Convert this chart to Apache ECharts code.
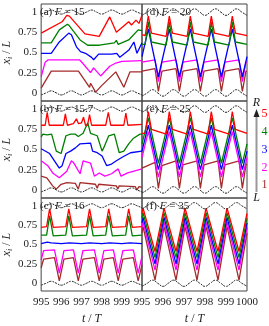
<!DOCTYPE html>
<html><head><meta charset="utf-8">
<script src="https://cdn.jsdelivr.net/npm/echarts@6/dist/echarts.min.js"></script>
<style>html,body{margin:0;padding:0;background:#fff}#c{width:269px;height:326px}</style>
</head><body><div id="c"></div>
<script>
// ---------- data ----------
const yTickValues = [0, 0.25, 0.5, 0.75, 1];
const yTickLabels = ['0', '0.25', '0.5', '0.75', '1'];
const xTickLabels = ['995', '996', '997', '998', '999', '1000'];
const panelTitles = ['(a) ', '(d) ', '(b) ', '(e) ', '(c) ', '(f) '];
const panelF = ['15', '20', '15.7', '25', '16', '35'];
const particleNames = ['1', '2', '3', '4', '5'];

// wall positions (sampled every T/4)
const wallT = [995,995.25,995.5,995.75,996,996.25,996.5,996.75,997,997.25,997.5,997.75,998,998.25,998.5,998.75,999,999.25,999.5,999.75,1000];
const wallSmallLow  = [-0.025,0,0.025,0,-0.025,0,0.025,0,-0.025,0,0.025,0,-0.025,0,0.025,0,-0.025,0,0.025,0,-0.025];
const wallSmallHigh = [0.975,1,1.025,1,0.975,1,1.025,1,0.975,1,1.025,1,0.975,1,1.025,1,0.975,1,1.025,1,0.975];
const wallBigLow  = [-0.04,0,0.04,0,-0.04,0,0.04,0,-0.04,0,0.04,0,-0.04,0,0.04,0,-0.04,0,0.04,0,-0.04];
const wallBigHigh = [0.96,1,1.04,1,0.96,1,1.04,1,0.96,1,1.04,1,0.96,1,1.04,1,0.96,1,1.04,1,0.96];

// (a) F = 15
const aRed   = [[995,0.74],[996.04,0.88],[996.27,0.96],[996.4,0.95],[997.17,0.73],[997.88,0.70],[998.4,0.94],[998.73,0.75],[999.34,0.88],[999.48,0.84],[999.7,0.90],[999.85,0.86],[1000,0.96]];
const aGreen = [[995,0.62],[995.5,0.62],[995.9,0.78],[996.3,0.85],[996.4,0.83],[996.93,0.655],[997.31,0.59],[997.88,0.59],[998.63,0.62],[998.73,0.65],[998.82,0.60],[999.34,0.655],[999.81,0.78],[1000,0.77]];
const aBlue  = [[995,0.49],[995.5,0.49],[995.9,0.63],[996.37,0.74],[996.5,0.72],[996.75,0.57],[996.95,0.51],[997.2,0.49],[997.5,0.44],[997.6,0.41],[997.85,0.48],[998.5,0.48],[998.75,0.49],[998.9,0.44],[999.35,0.53],[999.6,0.63],[999.75,0.49],[1000,0.62]];
const aMag   = [[995,0.20],[995.2,0.38],[995.35,0.41],[996.9,0.41],[997.05,0.37],[997.45,0.25],[997.6,0.31],[997.95,0.21],[998.4,0.33],[998.7,0.37],[999.0,0.39],[1000,0.40]];
const aBrown = [[995,0.06],[995.5,0.27],[996.85,0.27],[997.4,0.07],[997.45,0.12],[997.7,0.01],[998.0,0.09],[998.7,0.26],[999.1,0.07],[999.4,0.26],[1000,0.26]];

// (b) F = 15.7
const bRed   = [[995,0.80],[995.2,0.80],[995.3,0.96],[995.4,0.80],[996.1,0.80],[996.2,0.94],[996.3,0.80],[996.6,0.82],[996.75,0.88],[996.85,0.82],[997.0,0.83],[997.1,0.90],[997.2,0.80],[997.3,0.80],[997.4,0.93],[997.5,0.80],[998.2,0.80],[998.33,0.96],[998.45,0.80],[999.1,0.80],[999.2,0.95],[999.3,0.80],[1000,0.81]];
const bGreen = [[995,0.655],[995.09,0.69],[995.3,0.68],[995.52,0.69],[995.75,0.48],[995.99,0.45],[996.23,0.67],[996.46,0.69],[996.7,0.69],[996.84,0.66],[997.08,0.70],[997.31,0.83],[997.45,0.70],[997.78,0.67],[998.02,0.48],[998.1,0.52],[998.35,0.67],[998.63,0.69],[998.87,0.46],[999.1,0.48],[999.34,0.57],[999.58,0.64],[999.9,0.69],[1000,0.69]];
const bBlue  = [[995,0.51],[995.42,0.45],[995.9,0.27],[996.04,0.30],[996.23,0.45],[996.46,0.48],[996.7,0.52],[996.93,0.57],[997.45,0.58],[997.55,0.48],[997.78,0.46],[998.02,0.42],[998.25,0.30],[998.49,0.32],[998.73,0.36],[999.06,0.41],[999.43,0.46],[1000,0.48]];
const bMag   = [[995,0.36],[995.09,0.38],[995.33,0.30],[995.57,0.21],[995.9,0.15],[996.27,0.23],[996.5,0.36],[996.6,0.34],[996.93,0.20],[997.08,0.36],[997.45,0.33],[997.64,0.17],[997.88,0.21],[998.16,0.17],[998.49,0.20],[998.82,0.26],[998.96,0.17],[999.29,0.21],[1000,0.26]];
const bBrown = [[995,0.17],[995.28,0.15],[995.57,0.05],[995.75,0.01],[995.99,0.07],[996.27,0.09],[996.7,0.08],[996.84,0.01],[996.93,0.09],[997.69,0.07],[997.78,0.02],[997.85,0.07],[998.73,0.05],[998.8,0.01],[998.87,0.05],[999.67,0.04],[999.75,0.0],[999.85,0.04],[1000,0.03]];

// (c) F = 16
const cRed   = [[995,0.72],[995.27,0.73],[995.42,0.96],[995.6,0.72],[996.22,0.73],[996.37,0.96],[996.55,0.72],[997.25,0.73],[997.4,0.96],[997.58,0.72],[998.2,0.73],[998.35,0.96],[998.53,0.72],[999.19,0.73],[999.34,0.96],[999.52,0.72],[1000,0.73]];
const cGreen = [[995,0.62],[995.27,0.62],[995.42,0.87],[995.6,0.61],[996.22,0.62],[996.37,0.87],[996.55,0.61],[997.25,0.62],[997.4,0.87],[997.58,0.61],[998.2,0.62],[998.35,0.87],[998.53,0.61],[999.19,0.62],[999.34,0.87],[999.52,0.61],[1000,0.62]];
const cBlue  = [[995,0.51],[995.3,0.53],[995.5,0.52],[996,0.51],[996.4,0.52],[997,0.51],[997.4,0.52],[998,0.51],[998.4,0.52],[999,0.51],[999.4,0.52],[1000,0.51]];
const cMag   = [[995,0.30],[995.12,0.42],[995.66,0.43],[995.9,0.13],[996.13,0.42],[996.6,0.43],[996.84,0.13],[997.07,0.42],[997.64,0.43],[997.88,0.13],[998.11,0.42],[998.58,0.43],[998.82,0.13],[999.05,0.42],[999.57,0.43],[999.81,0.13],[1000,0.35]];
const cBrown = [[995,0.20],[995.12,0.31],[995.66,0.33],[995.9,0.03],[996.13,0.31],[996.6,0.33],[996.84,0.03],[997.07,0.31],[997.64,0.33],[997.88,0.03],[998.11,0.31],[998.58,0.33],[998.82,0.03],[999.05,0.31],[999.57,0.33],[999.81,0.03],[1000,0.24]];

// (d) F = 20
const dRed   = [[995,0.72],[995.15,0.71],[995.3,0.95],[995.45,0.74],[996.15,0.70],[996.3,0.95],[996.45,0.74],[997.15,0.70],[997.3,0.95],[997.45,0.74],[998.15,0.70],[998.3,0.95],[998.45,0.74],[999.15,0.70],[999.3,0.95],[999.45,0.74],[1000,0.71]];
const dGreen = [[995,0.60],[995.15,0.60],[995.3,0.88],[995.45,0.63],[996.15,0.59],[996.3,0.88],[996.45,0.63],[997.15,0.59],[997.3,0.88],[997.45,0.63],[998.15,0.59],[998.3,0.88],[998.45,0.63],[999.15,0.59],[999.3,0.88],[999.45,0.63],[1000,0.60]];
const dBlue  = [[995,0.45],[995.3,0.79],[995.78,0.20],[996.3,0.79],[996.78,0.20],[997.3,0.79],[997.78,0.20],[998.3,0.79],[998.78,0.20],[999.3,0.79],[999.78,0.20],[1000,0.45]];
const dMag   = [[995,0.38],[995.62,0.41],[995.78,0.14],[995.95,0.38],[996.62,0.41],[996.78,0.14],[996.95,0.38],[997.62,0.41],[997.78,0.14],[997.95,0.38],[998.62,0.41],[998.78,0.14],[998.95,0.38],[999.62,0.41],[999.78,0.14],[999.95,0.38],[1000,0.38]];
const dBrown = [[995,0.27],[995.62,0.30],[995.78,0.02],[995.95,0.27],[996.62,0.30],[996.78,0.02],[996.95,0.27],[997.62,0.30],[997.78,0.02],[997.95,0.27],[998.62,0.30],[998.78,0.02],[998.95,0.27],[999.62,0.30],[999.78,0.02],[999.95,0.27],[1000,0.27]];

// (e) F = 25
const eRed   = [[995,0.70],[995.15,0.70],[995.3,0.97],[995.45,0.75],[996.15,0.69],[996.3,0.97],[996.45,0.75],[997.15,0.69],[997.3,0.97],[997.45,0.75],[998.15,0.69],[998.3,0.97],[998.45,0.75],[999.15,0.69],[999.3,0.97],[999.45,0.75],[1000,0.70]];
const eGreen = [[995,0.57],[995.3,0.89],[995.78,0.33],[996.3,0.89],[996.78,0.33],[997.3,0.89],[997.78,0.33],[998.3,0.89],[998.78,0.33],[999.3,0.89],[999.78,0.33],[1000,0.57]];
const eBlue  = [[995,0.48],[995.3,0.80],[995.78,0.25],[996.3,0.80],[996.78,0.25],[997.3,0.80],[997.78,0.25],[998.3,0.80],[998.78,0.25],[999.3,0.80],[999.78,0.25],[1000,0.48]];
const eMag   = [[995,0.40],[995.3,0.72],[995.78,0.16],[996.3,0.72],[996.78,0.16],[997.3,0.72],[997.78,0.16],[998.3,0.72],[998.78,0.16],[999.3,0.72],[999.78,0.16],[1000,0.40]];
const eBrown = [[995,0.27],[995.62,0.34],[995.78,0.02],[995.95,0.30],[996.62,0.36],[996.78,0.02],[996.95,0.31],[997.62,0.36],[997.78,0.02],[997.95,0.31],[998.62,0.36],[998.78,0.02],[998.95,0.31],[999.62,0.36],[999.78,0.02],[999.95,0.31],[1000,0.32]];

// (f) F = 35
const fRed   = [[995,0.90],[995.05,0.97],[995.62,0.41],[996.05,0.97],[996.62,0.41],[997.05,0.97],[997.62,0.41],[998.05,0.97],[998.62,0.41],[999.05,0.97],[999.62,0.41],[1000,0.90]];
const fGreen = [[995,0.84],[995.05,0.91],[995.62,0.33],[996.05,0.91],[996.62,0.33],[997.05,0.91],[997.62,0.33],[998.05,0.91],[998.62,0.33],[999.05,0.91],[999.62,0.33],[1000,0.84]];
const fBlue  = [[995,0.78],[995.05,0.85],[995.62,0.25],[996.05,0.85],[996.62,0.25],[997.05,0.85],[997.62,0.25],[998.05,0.85],[998.62,0.25],[999.05,0.85],[999.62,0.25],[1000,0.78]];
const fMag   = [[995,0.72],[995.05,0.79],[995.62,0.17],[996.05,0.79],[996.62,0.17],[997.05,0.79],[997.62,0.17],[998.05,0.79],[998.62,0.17],[999.05,0.79],[999.62,0.17],[1000,0.72]];
const fBrown = [[995,0.65],[995.05,0.73],[995.62,0.04],[996.05,0.73],[996.62,0.04],[997.05,0.73],[997.62,0.04],[998.05,0.73],[998.62,0.04],[999.05,0.73],[999.62,0.04],[1000,0.65]];

// ---------- chart ----------
const FONT = 'Liberation Serif';
const colors = ['#a52a2a', '#ff00ff', '#0000ff', '#008000', '#ff0000'];
// panel order: a, d, b, e, c, f
const panels = [
  [aBrown, aMag, aBlue, aGreen, aRed],
  [dBrown, dMag, dBlue, dGreen, dRed],
  [bBrown, bMag, bBlue, bGreen, bRed],
  [eBrown, eMag, eBlue, eGreen, eRed],
  [cBrown, cMag, cBlue, cGreen, cRed],
  [fBrown, fMag, fBlue, fGreen, fRed]
];
const walls = [
  [wallSmallLow, wallSmallHigh], [wallBigLow, wallBigHigh],
  [wallSmallLow, wallSmallHigh], [wallBigLow, wallBigHigh],
  [wallSmallLow, wallSmallHigh], [wallBigLow, wallBigHigh]
];
const gridRects = [
  {left: 36, top: 4, width: 106, height: 97},
  {left: 142, top: 4, width: 105, height: 97},
  {left: 36, top: 101, width: 106, height: 97},
  {left: 142, top: 101, width: 105, height: 97},
  {left: 36, top: 198, width: 106, height: 99},
  {left: 142, top: 198, width: 105, height: 99}
];

const grid = gridRects.map(r => Object.assign({show: true, borderColor: '#444', borderWidth: 1, backgroundColor: 'transparent'}, r));
const xAxis = gridRects.map((r, i) => {
  const bottom = i >= 4, isLeft = i % 2 === 0;
  return {
    type: 'value', gridIndex: i, min: 995, max: 1000, interval: 1,
    axisLine: {show: false}, axisTick: {show: false}, splitLine: {show: false},
    axisLabel: {
      show: bottom, margin: 6, fontFamily: FONT, fontSize: 11, color: '#222',
      formatter: v => (isLeft && v === 1000) ? '' : xTickLabels[Math.round(v - 995)]
    },
    name: bottom ? '{it|t}{n| / }{it|T}' : '', nameLocation: 'middle', nameGap: 22,
    nameTextStyle: {fontFamily: FONT, fontSize: 12, color: '#222',
      rich: {it: {fontFamily: FONT, fontStyle: 'italic', fontSize: 12, color: '#222'},
             n: {fontFamily: FONT, fontSize: 12, color: '#222'}}}
  };
});
const yAxis = gridRects.map((r, i) => {
  const isLeft = i % 2 === 0;
  return {
    type: 'value', gridIndex: i, min: -0.1, max: 1.1,
    axisLine: {show: false}, axisTick: {show: false}, splitLine: {show: false},
    axisLabel: {
      show: isLeft, margin: 4, fontFamily: FONT, fontSize: 11, color: '#222',
      customValues: yTickValues,
      formatter: v => { const k = yTickValues.findIndex(t => Math.abs(t - v) < 1e-6); return k >= 0 ? yTickLabels[k] : ''; }
    },
    name: isLeft ? '{it|x}{sub|i}{n| / }{it|L}' : '', nameLocation: 'middle', nameGap: 24, nameRotate: 90,
    nameTextStyle: {fontFamily: FONT, fontSize: 12, color: '#222',
      rich: {it: {fontFamily: FONT, fontStyle: 'italic', fontSize: 12, color: '#222'},
             sub: {fontFamily: FONT, fontStyle: 'italic', fontSize: 8, color: '#222', verticalAlign: 'bottom', padding: [6, 0, 0, 0]},
             n: {fontFamily: FONT, fontSize: 12, color: '#222'}}}
  };
});

const series = [];
panels.forEach((list, p) => {
  walls[p].forEach(w => {
    series.push({
      type: 'line', xAxisIndex: p, yAxisIndex: p, smooth: 0.5, showSymbol: false, silent: true,
      data: wallT.map((t, k) => [t, w[k]]),
      lineStyle: {color: '#222', width: 1, type: [2, 1]}, z: 3
    });
  });
  list.forEach((d, k) => {
    series.push({
      type: 'line', name: particleNames[k], xAxisIndex: p, yAxisIndex: p, showSymbol: false, silent: true,
      data: d, lineStyle: {color: colors[k], width: 1.3}, z: 2
    });
  });
});

const titleRich = {
  n: {fontFamily: FONT, fontSize: 11, fill: '#222'},
  it: {fontFamily: FONT, fontSize: 11, fontStyle: 'italic', fill: '#222'}
};
const graphic = gridRects.map((r, i) => ({
  type: 'text', left: r.left + 4, top: r.top + 3, z: 1,
  style: {text: '{n|' + panelTitles[i] + '}{it|F}{n| = ' + panelF[i] + '}', rich: titleRich}
}));
// side indicator: particle index from L to R
graphic.push(
  {type: 'line', shape: {x1: 256.5, y1: 192, x2: 256.5, y2: 116}, style: {stroke: '#999', lineWidth: 2}, z: 5},
  {type: 'polygon', shape: {points: [[253.5, 117], [259.5, 117], [256.5, 109]]}, style: {fill: '#222'}, z: 6},
  {type: 'text', x: 256.5, y: 103, style: {text: 'R', fontFamily: FONT, fontSize: 12, fontStyle: 'italic', fill: '#222', align: 'center', verticalAlign: 'middle'}},
  {type: 'text', x: 256.5, y: 198, style: {text: 'L', fontFamily: FONT, fontSize: 12, fontStyle: 'italic', fill: '#222', align: 'center', verticalAlign: 'middle'}}
);
const legendY = [185, 168, 150, 132, 114];
particleNames.forEach((nm, k) => {
  graphic.push({type: 'text', x: 264.5, y: legendY[k],
    style: {text: nm, fontFamily: FONT, fontSize: 12, fill: colors[k], align: 'center', verticalAlign: 'middle'}});
});

const chart = echarts.init(document.getElementById('c'), null, {renderer: 'canvas'});
chart.setOption({animation: false, grid, xAxis, yAxis, series, graphic});
</script></body></html>
